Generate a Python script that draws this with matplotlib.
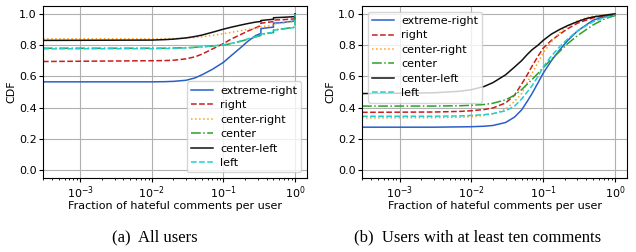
import numpy as np
import matplotlib
matplotlib.use('Agg')
import matplotlib.pyplot as plt

# series names and styles
labels = ['extreme-right', 'right', 'center-right', 'center', 'center-left', 'left']
colors = ['#2a5fc9', '#c81e1e', '#ff9f1c', '#2ca02c', '#111111', '#20cfcf']
styles = ['-', '--', ':', '-.', '-', '--']

# (a) all users -- x values (fraction of hateful comments); 1/3, 0.5 and 1 repeated for steps
frac_all = [3e-4, 1e-2, 1.5e-2, 2e-2, 3e-2, 4e-2, 5e-2, 7e-2, 0.1, 0.13, 0.17, 0.22, 0.28,
            1 / 3, 1 / 3, 0.4, 0.5, 0.5, 0.7, 1.0, 1.0]
cdf_all = {
    'extreme-right': [0.565, 0.565, 0.566, 0.568, 0.575, 0.59, 0.61, 0.645, 0.69, 0.735, 0.78, 0.825, 0.86,
                      0.875, 0.905, 0.91, 0.915, 0.94, 0.945, 0.955, 1.0],
    'right':         [0.695, 0.70, 0.701, 0.703, 0.712, 0.725, 0.742, 0.775, 0.81, 0.84, 0.865, 0.89, 0.91,
                      0.925, 0.94, 0.945, 0.95, 0.96, 0.963, 0.968, 1.0],
    'center-right':  [0.84, 0.84, 0.841, 0.842, 0.845, 0.849, 0.853, 0.862, 0.873, 0.882, 0.891, 0.90, 0.908,
                      0.912, 0.918, 0.922, 0.927, 0.935, 0.942, 0.95, 1.0],
    'center':        [0.78, 0.78, 0.78, 0.781, 0.783, 0.786, 0.789, 0.794, 0.80, 0.81, 0.823, 0.838, 0.852,
                      0.862, 0.868, 0.874, 0.88, 0.897, 0.905, 0.915, 1.0],
    'center-left':   [0.83, 0.832, 0.835, 0.838, 0.846, 0.855, 0.864, 0.882, 0.902, 0.915, 0.927, 0.938, 0.947,
                      0.951, 0.957, 0.961, 0.965, 0.975, 0.978, 0.982, 1.0],
    'left':          [0.776, 0.777, 0.778, 0.779, 0.782, 0.785, 0.789, 0.795, 0.802, 0.812, 0.825, 0.84, 0.853,
                      0.862, 0.87, 0.876, 0.882, 0.895, 0.903, 0.913, 1.0],
}

# (b) users with at least ten comments
frac_ten = [3e-4, 3e-3, 7e-3, 1e-2, 1.5e-2, 2e-2, 3e-2, 4e-2, 5e-2, 6e-2, 7e-2, 8.5e-2, 0.1,
            0.13, 0.17, 0.22, 0.3, 0.4, 0.5, 0.7, 1.0]
cdf_ten = {
    'extreme-right': [0.275, 0.275, 0.277, 0.278, 0.281, 0.286, 0.305, 0.34, 0.385, 0.44, 0.49, 0.56, 0.62,
                      0.70, 0.77, 0.83, 0.89, 0.93, 0.96, 0.98, 0.99],
    'right':         [0.37, 0.372, 0.376, 0.38, 0.388, 0.398, 0.43, 0.48, 0.55, 0.61, 0.665, 0.73, 0.78,
                      0.83, 0.87, 0.905, 0.94, 0.96, 0.975, 0.985, 0.99],
    'center-right':  [0.335, 0.336, 0.339, 0.342, 0.35, 0.36, 0.39, 0.44, 0.49, 0.56, 0.62, 0.69, 0.75,
                      0.82, 0.88, 0.92, 0.955, 0.975, 0.985, 0.993, 1.0],
    'center':        [0.41, 0.41, 0.412, 0.415, 0.42, 0.428, 0.45, 0.48, 0.515, 0.55, 0.58, 0.62, 0.655,
                      0.71, 0.76, 0.81, 0.86, 0.90, 0.93, 0.965, 0.99],
    'center-left':   [0.49, 0.495, 0.505, 0.515, 0.535, 0.56, 0.61, 0.66, 0.70, 0.74, 0.77, 0.80, 0.83,
                      0.87, 0.90, 0.925, 0.95, 0.97, 0.98, 0.99, 1.0],
    'left':          [0.345, 0.345, 0.347, 0.35, 0.355, 0.362, 0.38, 0.41, 0.455, 0.50, 0.54, 0.60, 0.66,
                      0.73, 0.79, 0.84, 0.89, 0.925, 0.95, 0.975, 0.99],
}

captions = ['(a)  All users', '(b)  Users with at least ten comments']

fig = plt.figure(figsize=(6.36, 2.52), dpi=100)
ax1 = fig.add_axes([43 / 636, 1 - 178 / 252, 264 / 636, 172 / 252])
ax2 = fig.add_axes([362 / 636, 1 - 178 / 252, 265 / 636, 172 / 252])

panels = [(ax1, frac_all, cdf_all, 'lower right'), (ax2, frac_ten, cdf_ten, 'upper left')]
for ax, frac, data, loc in panels:
    for name, c, ls in zip(labels, colors, styles):
        ax.plot(frac, data[name], color=c, linestyle=ls, linewidth=1.1, label=name)
    ax.set_xscale('log')
    ax.set_xlim(3e-4, 1.47)
    ax.set_ylim(-0.05, 1.05)
    ax.set_yticks([0.0, 0.2, 0.4, 0.6, 0.8, 1.0])
    ax.grid(True, which='major', color='#b0b0b0', linewidth=0.8)
    ax.tick_params(labelsize=8, length=3, pad=1.5)
    ax.tick_params(which='minor', length=1.5)
    ax.set_xlabel('Fraction of hateful comments per user', fontsize=8, labelpad=0)
    ax.set_ylabel('CDF', fontsize=8, labelpad=2)
    ax.legend(loc=loc, fontsize=8, handlelength=2.0, labelspacing=0.4,
              borderpad=0.4, handletextpad=0.6, framealpha=0.8)

fig.text(155 / 636, 1 - 237 / 252, captions[0], ha='center', va='center',
         fontsize=12, family='Liberation Serif')
fig.text(478 / 636, 1 - 237 / 252, captions[1], ha='center', va='center',
         fontsize=12, family='Liberation Serif')

fig.savefig('out.png', dpi=100)
